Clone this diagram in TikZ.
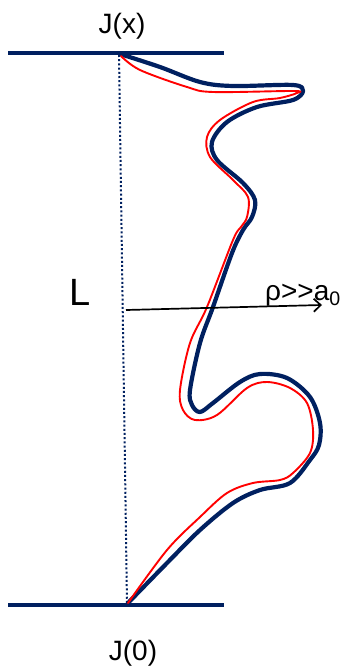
\documentclass[tikz,border=0pt]{standalone}
\usepackage{fontspec}
\setmainfont{Liberation Sans}
\usetikzlibrary{arrows.meta}
\definecolor{navy}{RGB}{0,32,96}

\begin{document}
\begin{tikzpicture}[x=1pt,y=-1pt,font=\fontsize{28}{32}\selectfont,
  plate/.style={navy,line width=3.4pt},
  chainb/.style={navy,line width=4.2pt,line join=round,line cap=round},
  chainr/.style={red,line width=1.9pt,line join=round,line cap=round}]
  \useasboundingbox (0,0) rectangle (345,666);
  % the two planes
  \coordinate (tl) at (8,53);   \coordinate (tr) at (224,53);
  \coordinate (bl) at (8,605);  \coordinate (br) at (224,605);
  \coordinate (jtop) at (119,55); \coordinate (jbot) at (127,604);
  \draw[plate] (tl) -- (tr);
  \draw[plate] (bl) -- (br);
  \node (jx) at (122,26) {J(x)};
  \node (jo) at (133,653) {J(0)};
  % end-to-end distance
  \draw[navy,line width=2pt,dash pattern=on 2pt off 2.2pt] (jtop) -- (jbot);
  \node (len) at (80,292) {\fontsize{38}{42}\selectfont L};
  % the chain
  \draw[chainb] plot[smooth,tension=0.55] coordinates {
    (120,54) (160,67) (200,82) (233,86) (293,85) (303,91) (293,100)
    (257,107) (227,122) (212,142) (217,160) (243,183) (255,200) (252,217)
    (243,230) (232,253) (213,307) (200,343) (190,390) (192,405) (200,412)
    (213,403) (240,382) (260,374) (287,378) (310,397) (320,423) (319,445)
    (310,460) (290,483) (260,490) (233,503) (200,530) (167,563) (128,603)};
  \draw[chainr] plot[smooth,tension=0.55] coordinates {
    (121,56) (140,70) (187,87) (213,92) (293,91) (297,93) (280,98)
    (253,102) (220,120) (207,137) (210,157) (233,180) (248,197) (247,217)
    (241,227) (233,240) (207,307) (190,343) (180,390) (183,410) (195,420)
    (217,415) (247,388) (267,382) (290,388) (307,403) (313,430) (310,453)
    (293,473) (280,480) (253,483) (227,493) (200,517) (167,550) (128,603)};
  % radius
  \coordinate (rs) at (126,310); \coordinate (re) at (322,305);
  \draw[line width=1.7pt,-{Straight Barb[length=7pt,width=13pt]}] (rs) -- (re);
  \node[anchor=base west,inner sep=0pt] (rho) at (265,300) {ρ{>}{>}a\textsubscript{0}};
\end{tikzpicture}
\end{document}
